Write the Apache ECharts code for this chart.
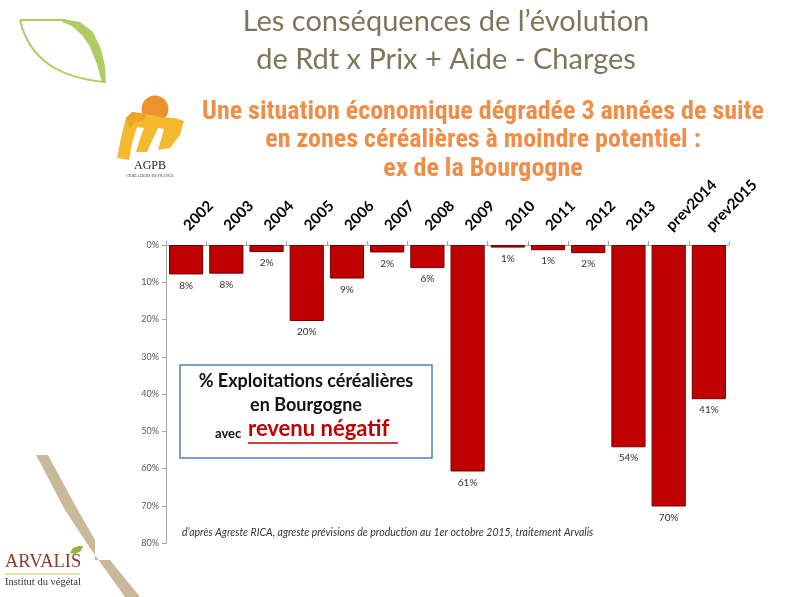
<!DOCTYPE html>
<html><head><meta charset="utf-8">
<script src="https://cdn.jsdelivr.net/npm/echarts@6/dist/echarts.min.js"></script>
<style>html,body{margin:0;padding:0;background:#fff}#c{width:800px;height:597px}</style>
</head><body><div id="c"></div>
<script>
const categories = ['2002','2003','2004','2005','2006','2007','2008','2009','2010','2011','2012','2013','prev2014','prev2015'];
const values = [7.9, 7.7, 1.9, 20.4, 9.0, 2.0, 6.2, 60.8, 0.7, 1.4, 2.2, 54.3, 70.2, 41.4];
const yTicks = {min: 0, max: 80, interval: 10};

const chart = echarts.init(document.getElementById('c'), null, {renderer: 'canvas'});
chart.setOption({
  animation: false,
  backgroundColor: '#ffffff',
  title: [
    {text: 'Les conséquences de l’évolution\nde Rdt x Prix + Aide - Charges', left: 441, top: -2, textAlign: 'center',
     textStyle: {fontFamily: 'Lato', fontWeight: 'normal', fontSize: 29, lineHeight: 38, color: '#7c775a'}},
    {text: 'Une situation économique dégradée 3 années de suite\nen zones céréalières à moindre potentiel :\nex de la Bourgogne', left: 478, top: 93, textAlign: 'center',
     textStyle: {fontFamily: 'Liberation Sans Narrow, Roboto Condensed, Liberation Sans', fontWeight: 'bold', fontSize: 26, lineHeight: 28.5, color: '#f08e48'}}
  ],
  grid: {left: 166, right: 71, top: 245, bottom: 54, containLabel: false},
  xAxis: {
    type: 'category', position: 'top', data: categories,
    axisLine: {lineStyle: {color: '#a6a6a6', width: 1}},
    axisTick: {show: true, alignWithLabel: false, length: 4, lineStyle: {color: '#a6a6a6'}},
    axisLabel: {rotate: 45, margin: 17, interval: 0, fontFamily: 'Lato', fontWeight: 'bold', fontSize: 15, color: '#000'}
  },
  yAxis: {
    type: 'value', inverse: true, min: yTicks.min, max: yTicks.max, interval: yTicks.interval,
    axisLine: {show: true, lineStyle: {color: '#a6a6a6'}},
    axisTick: {show: true, length: 4, lineStyle: {color: '#a6a6a6'}},
    splitLine: {show: false},
    axisLabel: {formatter: '{value}%', fontFamily: 'Lato', fontSize: 9, color: '#595959', margin: 7}
  },
  series: [{
    type: 'bar', data: values, barCategoryGap: '15%',
    itemStyle: {color: '#c00000', borderColor: '#6e0000', borderWidth: 1},
    label: {show: true, position: 'bottom', distance: 6, fontFamily: 'Lato', fontSize: 10, color: '#333',
            formatter: p => Math.round(p.value) + '%'}
  }],
  graphic: [
    // leaf logo
    {type: 'line', shape: {x1: 20, y1: 20, x2: 66, y2: 20}, style: {stroke: '#afcc62', lineWidth: 2}},
    {type: 'bezierCurve', shape: {x1: 20, y1: 20, cpx1: 30, cpy1: 62, cpx2: 62, cpy2: 78, x2: 105, y2: 82},
     style: {fill: null, stroke: '#afcc62', lineWidth: 2}},
    {type: 'polygon', shape: {points: [[62,19],[80,22],[93,32],[101,49],[105,66],[106,83],[102,83],[97,64],[90,47],[82,35],[72,26],[62,22]]},
     style: {fill: '#afcc62'}},
    // AGPB logo
    {type: 'circle', shape: {cx: 155, cy: 109, r: 13.5}, style: {fill: '#ec9330'}},
    {type: 'polygon', shape: {points: [[117,158],[121,138],[126,118],[132,112],[146,114],[160,117],[175,118],[184,121],[180,135],[170,148],[158,150],[162,136],[164,129],[158,128],[152,141],[147,152],[136,152],[141,136],[144,128],[137,127],[132,143],[129,160]]},
     style: {fill: '#f4b92e'}},
    {type: 'polygon', shape: {points: [[126,118],[132,112],[146,114],[144,121],[136,122],[130,128]]}, style: {fill: '#eda524'}},
    {type: 'text', style: {text: 'AGPB', x: 150, y: 160, textAlign: 'center', fontFamily: 'Liberation Serif', fontSize: 12, fill: '#222'}},
    {type: 'text', style: {text: 'CÉRÉALIERS DE FRANCE', x: 150, y: 174, textAlign: 'center', fontFamily: 'Liberation Serif', fontSize: 4, fill: '#444'}},
    // legend box
    {type: 'rect', shape: {x: 180, y: 365, width: 252, height: 93}, style: {fill: '#fff', stroke: '#4f81bd', lineWidth: 1.5}},
    {type: 'text', style: {text: '% Exploitations céréalières', x: 306, y: 372, textAlign: 'center', fontFamily: 'Lato', fontWeight: 'bold', fontSize: 18, fill: '#111'}},
    {type: 'text', style: {text: 'en Bourgogne', x: 306, y: 396, textAlign: 'center', fontFamily: 'Lato', fontWeight: 'bold', fontSize: 18, fill: '#111'}},
    {type: 'text', style: {text: 'avec', x: 215, y: 427, fontFamily: 'Lato', fontWeight: 'bold', fontSize: 13, fill: '#111'}},
    {type: 'text', style: {text: 'revenu négatif', x: 248, y: 418, fontFamily: 'Lato', fontWeight: 'bold', fontSize: 22, fill: '#c00000'}},
    {type: 'line', shape: {x1: 248, y1: 443, x2: 398, y2: 443}, style: {stroke: '#c00000', lineWidth: 1.5}},
    // source
    {type: 'text', style: {text: 'd’après Agreste RICA, agreste prévisions de production au 1er octobre 2015, traitement Arvalis', x: 182, y: 527,
     fontFamily: 'Lato', fontStyle: 'italic', fontSize: 10.5, fill: '#333'}},
    // beige band
    {type: 'polygon', shape: {points: [[36,455],[48,455],[75,505],[95,540],[95,560],[110,560],[140,597],[125,597],[90,548],[65,510]]}, style: {fill: '#c9b899'}},
    // ARVALIS logo
    {type: 'text', style: {text: 'ARVALIS', x: 5, y: 553, fontFamily: 'Liberation Serif', fontSize: 18.5, fill: '#8e3b2b'}},
    {type: 'line', shape: {x1: 5, y1: 574, x2: 80, y2: 574}, style: {stroke: '#d8c24a', lineWidth: 1}},
    {type: 'text', style: {text: 'Institut du végétal', x: 5, y: 577, fontFamily: 'Liberation Serif', fontSize: 10.5, fill: '#333'}},
    {type: 'polygon', shape: {points: [[70,553],[73,548],[79,546],[83,546],[81,551],[75,554]]}, style: {fill: '#8ab83a'}}
  ]
});
</script></body></html>
